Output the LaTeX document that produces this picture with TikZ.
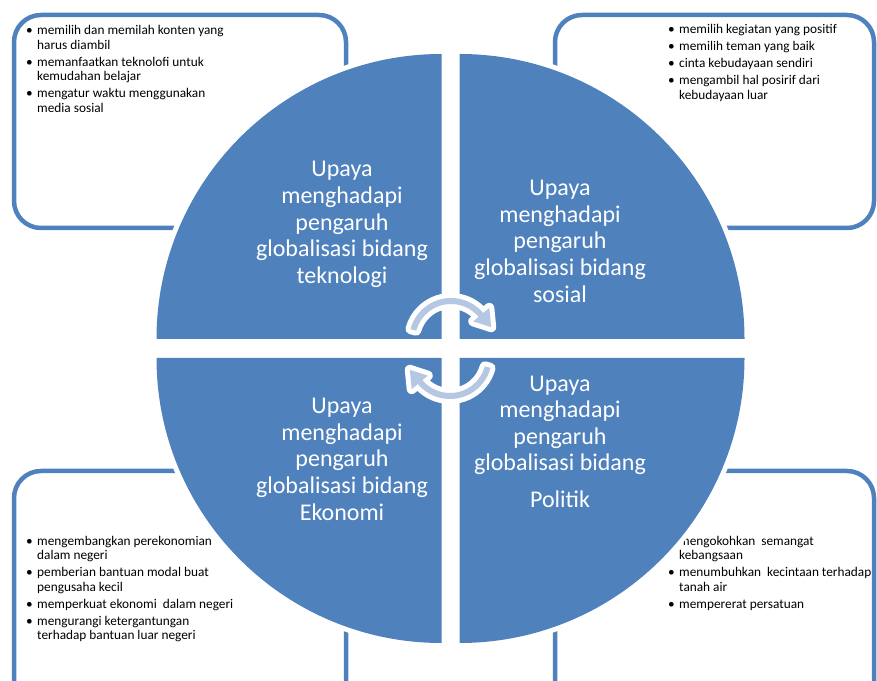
\documentclass[tikz,border=0pt]{standalone}
\usepackage{fontspec}
\setmainfont{Carlito}
\definecolor{qblue}{RGB}{79,129,189}
\definecolor{arrowfill}{RGB}{182,199,228}
\newcommand{\bul}{\makebox[11pt][l]{•}}
\newcommand{\blist}[1]{\begin{tabular}[t]{@{}l@{}l@{}}#1\end{tabular}}
\tikzset{
  quad/.style={fill=qblue},
  halo/.style={draw=white, line width=10pt, line join=round},
  infobox/.style={draw=qblue, line width=4.5pt, rounded corners=27pt},
  blisttext/.style={inner sep=0pt, anchor=base west, font=\fontsize{13.3}{14.5}\selectfont, text=black},
  quadtext/.style={inner sep=0pt, align=center, text=white, font=\fontsize{24}{26.6}\selectfont},
  cyclearrow/.pic={
    \path[draw=white, fill=white, line width=10pt, line join=round]
      (165:42) arc[start angle=165, end angle=40, radius=42] -- (40:50) -- (40.2,12.8) -- (40:29) -- (40:36)
      arc[start angle=40, end angle=165, radius=36] -- cycle;
    \fill[arrowfill]
      (165:42) arc[start angle=165, end angle=40, radius=42] -- (40:50) -- (40.2,12.8) -- (40:29) -- (40:36)
      arc[start angle=40, end angle=165, radius=36] -- cycle;
  }
}
\begin{document}
\begin{tikzpicture}[x=1pt,y=1pt]
\useasboundingbox (0,0) rectangle (877,680);
\clip (0,0) rectangle (877,680);
% info boxes
\draw[infobox] (14,452) rectangle (346,665);
\draw[infobox] (555,452) rectangle (874,665);
\draw[infobox] (14,-40) rectangle (346,209);
\draw[infobox] (555,-40) rectangle (874,209);
% box texts
\node[blisttext] (tlList) at (26,645) {\blist{%
  \bul & memilih dan memilah konten yang\\
       & harus diambil\\[2.5pt]
  \bul & memanfaatkan teknolofi untuk\\
       & kemudahan belajar\\[2.5pt]
  \bul & mengatur waktu menggunakan\\
       & media sosial}};
\node[blisttext] (trList) at (668,646) {\blist{%
  \bul & memilih kegiatan yang positif\\[2.5pt]
  \bul & memilih teman yang baik\\[2.5pt]
  \bul & cinta kebudayaan sendiri\\[2.5pt]
  \bul & mengambil hal posirif dari\\
       & kebudayaan luar}};
\node[blisttext] (blList) at (26,135) {\blist{%
  \bul & mengembangkan perekonomian\\
       & dalam negeri\\[2.5pt]
  \bul & pemberian bantuan modal buat\\
       & pengusaha kecil\\[2.5pt]
  \bul & memperkuat ekonomi\ \ dalam negeri\\[2.5pt]
  \bul & mengurangi ketergantungan\\
       & terhadap bantuan luar negeri}};
\node[blisttext] (brList) at (668,135) {\blist{%
  \bul & mengokohkan\ \ semangat\\
       & kebangsaan\\[2.5pt]
  \bul & menumbuhkan\ \ kecintaan terhadap\\
       & tanah air\\[2.5pt]
  \bul & mempererat persatuan}};
% quadrants
\path[halo] (441.5,341) -- (156.5,341) arc[start angle=180, end angle=90, radius=285] -- cycle;
\path[halo] (459.5,341) -- (459.5,626) arc[start angle=90, end angle=0, radius=285] -- cycle;
\path[halo] (441.5,322) -- (156.5,322) arc[start angle=180, end angle=270, radius=285] -- cycle;
\path[halo] (459.5,322) -- (744.5,322) arc[start angle=0, end angle=-90, radius=285] -- cycle;
\fill[quad] (441.5,341) -- (156.5,341) arc[start angle=180, end angle=90, radius=285] -- cycle;
\fill[quad] (459.5,341) -- (459.5,626) arc[start angle=90, end angle=0, radius=285] -- cycle;
\fill[quad] (441.5,322) -- (156.5,322) arc[start angle=180, end angle=270, radius=285] -- cycle;
\fill[quad] (459.5,322) -- (744.5,322) arc[start angle=0, end angle=-90, radius=285] -- cycle;
% quadrant texts
\node[quadtext] (tlTitle) at (342,455.5) {Upaya\\menghadapi\\pengaruh\\globalisasi bidang\\teknologi};
\node[quadtext] (trTitle) at (560,438.8) {Upaya\\menghadapi\\pengaruh\\globalisasi bidang\\sosial};
\node[quadtext] (blTitle) at (342,220.8) {Upaya\\menghadapi\\pengaruh\\globalisasi bidang\\Ekonomi};
\node[quadtext] (brTitle) at (560,238.3) {Upaya\\menghadapi\\pengaruh\\globalisasi bidang\\[10pt]Politik};
% cycle arrows
\pic at (451,340) {cyclearrow};
\pic[rotate=180] at (450,323) {cyclearrow};
\end{tikzpicture}
\end{document}
